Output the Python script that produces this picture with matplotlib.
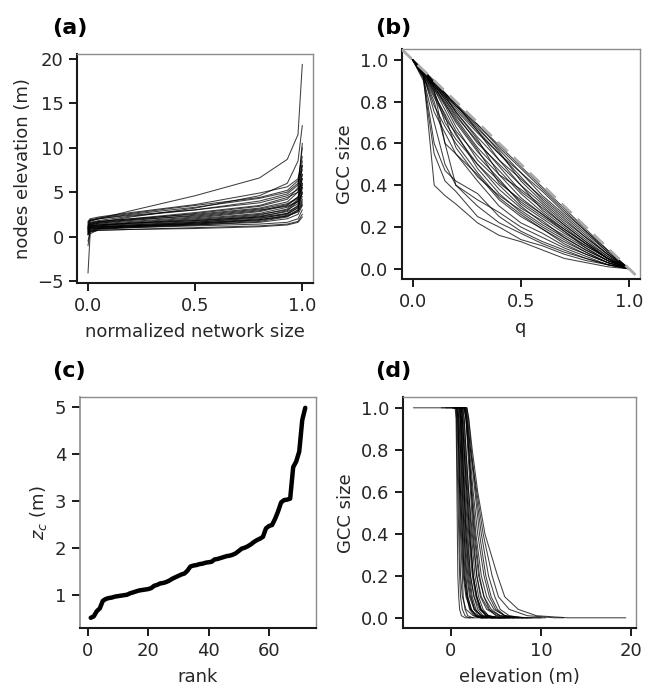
import matplotlib
matplotlib.use("Agg")
import matplotlib.pyplot as plt
import numpy as np

# ---------------- data ----------------
# (a) node elevation at given normalized network size levels, one row per network
size_levels = [0, 0.01, 0.05, 0.2, 0.5, 0.8, 0.93, 0.98, 1.0]
elev_curves = [
    [-4.1, 0.3, 0.8, 1.0, 1.3, 1.7, 2.2, 3.0, 5.5],
    [-1.0, 0.5, 0.9, 1.1, 1.5, 2.0, 2.6, 3.5, 6.0],
    [0.2, 0.6, 0.7, 0.8, 0.9, 1.1, 1.3, 1.6, 2.2],
    [0.5, 0.9, 1.0, 1.2, 1.6, 2.2, 2.9, 4.0, 8.0],
    [1.0, 1.4, 1.6, 2.2, 3.2, 4.6, 6.0, 8.5, 12.5],
    [1.3, 1.7, 2.0, 2.9, 4.6, 6.6, 8.7, 11.5, 19.4],
    [0.8, 1.2, 1.3, 1.6, 2.1, 2.8, 3.5, 4.5, 6.5],
    [0.3, 0.7, 0.9, 1.0, 1.2, 1.4, 1.6, 2.0, 3.0],
    [0.9, 1.3, 1.5, 1.9, 2.6, 3.4, 4.2, 5.5, 10.5],
    [1.5, 1.8, 2.0, 2.5, 3.3, 4.3, 5.0, 6.0, 7.5],
    [0.6, 1.0, 1.1, 1.3, 1.7, 2.3, 2.8, 3.4, 4.5],
    [0.4, 0.8, 1.0, 1.2, 1.4, 1.8, 2.3, 2.8, 3.8],
    [1.1, 1.5, 1.7, 2.0, 2.5, 3.2, 3.9, 5.0, 8.5],
    [0.7, 1.1, 1.2, 1.5, 1.9, 2.5, 3.0, 3.7, 5.0],
    [1.7, 2.0, 2.2, 2.7, 3.6, 4.9, 5.6, 6.5, 9.0],
    [0.2, 0.5, 0.7, 0.8, 1.0, 1.2, 1.4, 1.7, 2.5],
    [0.9, 1.2, 1.4, 1.7, 2.2, 2.9, 3.6, 4.3, 6.0],
    [0.6, 1.0, 1.2, 1.4, 1.8, 2.4, 3.1, 4.2, 7.0],
    [1.2, 1.6, 1.8, 2.3, 3.0, 4.0, 4.8, 5.8, 10.0],
    [-0.5, 0.6, 0.9, 1.1, 1.4, 1.9, 2.4, 3.0, 4.0],
    [1.0, 1.3, 1.5, 1.8, 2.4, 3.1, 3.7, 4.4, 5.5],
    [0.8, 1.1, 1.3, 1.5, 1.8, 2.2, 2.6, 3.2, 4.2],
    [1.4, 1.8, 2.1, 2.6, 3.5, 4.4, 5.2, 6.3, 8.0],
    [0.5, 0.8, 0.9, 1.1, 1.3, 1.6, 2.0, 2.5, 3.5],
    [1.2, 1.5, 1.7, 2.0, 2.7, 3.5, 4.4, 5.0, 6.5],
    [0.3, 0.9, 1.1, 1.3, 1.6, 2.1, 2.5, 3.3, 5.0],
    [1.6, 1.9, 2.0, 2.4, 3.0, 3.8, 4.6, 5.3, 7.0],
    [0.9, 1.2, 1.3, 1.5, 2.0, 2.6, 3.3, 3.9, 4.8],
    [0.7, 1.0, 1.1, 1.2, 1.5, 1.9, 2.3, 2.8, 3.6],
    [1.1, 1.4, 1.6, 1.9, 2.3, 3.0, 3.4, 4.0, 5.8],
]

# (b) GCC size at given removed fractions q
q_levels = [0, 0.05, 0.1, 0.15, 0.2, 0.3, 0.4, 0.5, 0.6, 0.7, 0.8, 0.9, 1.0]
gcc_q_curves = [
    [1.0, 0.93, 0.40, 0.35, 0.31, 0.22, 0.16, 0.13, 0.09, 0.05, 0.03, 0.01, 0.0],
    [1.0, 0.90, 0.55, 0.42, 0.37, 0.25, 0.20, 0.14, 0.11, 0.07, 0.04, 0.02, 0.0],
    [1.0, 0.94, 0.85, 0.60, 0.40, 0.30, 0.22, 0.17, 0.12, 0.08, 0.05, 0.02, 0.0],
    [1.0, 0.95, 0.89, 0.84, 0.79, 0.69, 0.59, 0.49, 0.39, 0.29, 0.19, 0.09, 0.0],
    [1.0, 0.94, 0.88, 0.82, 0.76, 0.65, 0.55, 0.44, 0.33, 0.24, 0.15, 0.07, 0.0],
    [1.0, 0.94, 0.87, 0.80, 0.72, 0.58, 0.47, 0.36, 0.27, 0.19, 0.12, 0.05, 0.0],
    [1.0, 0.93, 0.85, 0.70, 0.62, 0.50, 0.40, 0.30, 0.22, 0.16, 0.10, 0.04, 0.0],
    [1.0, 0.92, 0.80, 0.60, 0.55, 0.45, 0.33, 0.25, 0.19, 0.12, 0.07, 0.03, 0.0],
    [1.0, 0.94, 0.88, 0.83, 0.75, 0.62, 0.45, 0.38, 0.30, 0.21, 0.13, 0.06, 0.0],
    [1.0, 0.95, 0.89, 0.83, 0.78, 0.67, 0.57, 0.46, 0.35, 0.26, 0.17, 0.08, 0.0],
    [1.0, 0.91, 0.70, 0.50, 0.40, 0.33, 0.27, 0.20, 0.15, 0.10, 0.06, 0.02, 0.0],
    [1.0, 0.94, 0.86, 0.78, 0.68, 0.52, 0.42, 0.32, 0.25, 0.18, 0.11, 0.05, 0.0],
    [1.0, 0.95, 0.88, 0.81, 0.74, 0.60, 0.50, 0.40, 0.31, 0.22, 0.14, 0.06, 0.0],
    [1.0, 0.93, 0.75, 0.65, 0.55, 0.42, 0.30, 0.22, 0.17, 0.11, 0.07, 0.03, 0.0],
    [1.0, 0.94, 0.89, 0.84, 0.78, 0.68, 0.56, 0.42, 0.32, 0.23, 0.15, 0.07, 0.0],
    [1.0, 0.95, 0.90, 0.84, 0.79, 0.66, 0.52, 0.40, 0.28, 0.20, 0.12, 0.05, 0.0],
    [1.0, 0.92, 0.82, 0.72, 0.65, 0.48, 0.36, 0.27, 0.20, 0.14, 0.08, 0.03, 0.0],
    [1.0, 0.94, 0.87, 0.79, 0.70, 0.56, 0.45, 0.34, 0.26, 0.18, 0.10, 0.04, 0.0],
    [1.0, 0.95, 0.89, 0.83, 0.77, 0.66, 0.55, 0.46, 0.37, 0.27, 0.18, 0.08, 0.0],
    [1.0, 0.93, 0.84, 0.73, 0.58, 0.44, 0.35, 0.28, 0.21, 0.15, 0.09, 0.04, 0.0],
    [1.0, 0.94, 0.88, 0.81, 0.73, 0.61, 0.49, 0.37, 0.29, 0.21, 0.13, 0.05, 0.0],
    [1.0, 0.92, 0.60, 0.47, 0.42, 0.36, 0.25, 0.18, 0.13, 0.09, 0.05, 0.02, 0.0],
    [1.0, 0.95, 0.89, 0.84, 0.78, 0.69, 0.58, 0.48, 0.38, 0.28, 0.18, 0.09, 0.0],
    [1.0, 0.94, 0.86, 0.76, 0.66, 0.54, 0.43, 0.31, 0.24, 0.17, 0.11, 0.05, 0.0],
    [1.0, 0.93, 0.83, 0.74, 0.64, 0.50, 0.38, 0.29, 0.23, 0.15, 0.09, 0.04, 0.0],
    [1.0, 0.95, 0.88, 0.82, 0.75, 0.63, 0.52, 0.43, 0.34, 0.25, 0.16, 0.07, 0.0],
    [1.0, 0.94, 0.87, 0.79, 0.71, 0.57, 0.41, 0.33, 0.26, 0.19, 0.12, 0.05, 0.0],
    [1.0, 0.92, 0.78, 0.68, 0.60, 0.46, 0.34, 0.26, 0.19, 0.13, 0.08, 0.03, 0.0],
]

# (c) critical elevation z_c, sorted by rank
zc_values = [
    0.52, 0.55, 0.66, 0.72, 0.88, 0.92, 0.94, 0.95, 0.97, 0.98,
    0.99, 1.00, 1.01, 1.04, 1.06, 1.08, 1.10, 1.11, 1.12, 1.13,
    1.15, 1.20, 1.22, 1.25, 1.26, 1.28, 1.31, 1.35, 1.38, 1.41,
    1.44, 1.46, 1.52, 1.61, 1.63, 1.64, 1.66, 1.67, 1.69, 1.70,
    1.71, 1.76, 1.77, 1.79, 1.81, 1.83, 1.84, 1.86, 1.89, 1.94,
    1.99, 2.01, 2.04, 2.08, 2.13, 2.17, 2.20, 2.24, 2.42, 2.47,
    2.49, 2.62, 2.78, 2.97, 3.02, 3.03, 3.05, 3.72, 3.84, 4.05,
    4.72, 4.98,
]
rank = list(range(1, len(zc_values) + 1))

# (d) GCC size vs flooding elevation: elevation where GCC reaches each level
gcc_levels = [1.0, 0.95, 0.8, 0.6, 0.4, 0.2, 0.1, 0.04, 0.01, 0.0]
drop_elev_curves = [
    [0.6, 0.7, 0.8, 0.9, 1.0, 1.1, 1.3, 1.7, 2.5, 3.5],
    [0.7, 0.8, 0.9, 1.0, 1.2, 1.4, 1.7, 2.2, 3.0, 4.5],
    [0.5, 0.6, 0.65, 0.7, 0.75, 0.8, 0.9, 1.0, 1.2, 1.6],
    [0.9, 1.0, 1.1, 1.3, 1.5, 1.8, 2.1, 2.6, 3.5, 5.5],
    [1.6, 1.8, 2.2, 2.9, 3.6, 4.6, 5.3, 6.5, 8.5, 11.5],
    [1.8, 2.0, 2.4, 3.0, 3.8, 5.2, 6.0, 7.5, 9.5, 13.0],
    [1.2, 1.3, 1.5, 1.8, 2.1, 2.5, 2.9, 3.4, 4.2, 5.5],
    [0.7, 0.8, 0.9, 1.0, 1.1, 1.3, 1.4, 1.6, 1.9, 2.5],
    [1.3, 1.5, 1.7, 2.0, 2.4, 2.9, 3.4, 4.2, 5.5, 8.0],
    [1.7, 1.9, 2.2, 2.7, 3.2, 3.9, 4.5, 5.2, 6.0, 7.0],
    [1.0, 1.1, 1.3, 1.5, 1.7, 2.1, 2.4, 2.8, 3.3, 4.0],
    [0.8, 0.9, 1.1, 1.2, 1.4, 1.6, 1.9, 2.3, 2.8, 3.4],
    [1.5, 1.7, 1.9, 2.2, 2.5, 2.9, 3.3, 4.0, 5.2, 7.0],
    [1.1, 1.2, 1.4, 1.6, 1.9, 2.2, 2.6, 3.0, 3.6, 4.5],
    [1.8, 2.0, 2.3, 2.8, 3.4, 4.2, 4.9, 5.5, 6.5, 8.0],
    [0.6, 0.65, 0.7, 0.8, 0.9, 1.0, 1.1, 1.3, 1.6, 2.0],
    [1.2, 1.3, 1.5, 1.8, 2.1, 2.5, 2.9, 3.4, 4.0, 5.2],
    [1.0, 1.1, 1.3, 1.5, 1.8, 2.2, 2.6, 3.2, 4.0, 6.0],
    [1.5, 1.7, 2.0, 2.4, 2.8, 3.4, 4.0, 4.8, 6.0, 8.5],
    [0.7, 0.8, 0.9, 1.1, 1.3, 1.5, 1.8, 2.2, 2.8, 3.5],
    [1.4, 1.5, 1.7, 2.0, 2.3, 2.7, 3.1, 3.6, 4.2, 5.0],
    [1.1, 1.2, 1.3, 1.5, 1.7, 2.0, 2.3, 2.6, 3.1, 3.8],
    [1.6, 1.8, 2.1, 2.5, 3.0, 3.7, 4.3, 5.0, 6.0, 7.5],
    [0.8, 0.9, 1.0, 1.1, 1.3, 1.5, 1.8, 2.1, 2.6, 3.1],
    [1.5, 1.7, 2.0, 2.3, 2.7, 3.2, 3.7, 4.3, 5.0, 6.0],
    [1.0, 1.1, 1.2, 1.4, 1.6, 1.9, 2.2, 2.7, 3.4, 4.5],
    [1.7, 1.8, 2.0, 2.3, 2.6, 3.1, 3.7, 4.5, 5.5, 6.5],
    [1.2, 1.3, 1.5, 1.7, 2.0, 2.4, 2.8, 3.3, 3.9, 4.5],
    [1.0, 1.1, 1.2, 1.3, 1.5, 1.7, 1.9, 2.3, 2.8, 3.3],
    [1.3, 1.4, 1.6, 1.9, 2.2, 2.5, 2.9, 3.3, 4.0, 5.2],
]

# ---------------- style ----------------
plt.rcParams['font.family'] = ['DejaVu Sans']
TXT = '#262626'
FS = 13
W, H = 646, 689
fig = plt.figure(figsize=(W / 100, H / 100), dpi=100)


def make_ax(left, right, top, bottom, gray_left=False):
    ax = fig.add_axes([left / W, 1 - bottom / H, (right - left) / W, (bottom - top) / H])
    for s in ('top', 'right'):
        ax.spines[s].set_color('#8c8c8c')
        ax.spines[s].set_linewidth(1.0)
    for s in ('left', 'bottom'):
        ax.spines[s].set_color('#1a1a1a')
        ax.spines[s].set_linewidth(1.5)
    if gray_left:
        ax.spines['left'].set_color('#8c8c8c')
        ax.spines['left'].set_linewidth(1.2)
    ax.tick_params(axis='both', length=5.8, width=1.4, color='#1a1a1a',
                   labelsize=FS, labelcolor=TXT, pad=4, direction='out')
    return ax


LW = 0.75
ALPHA = 0.75

# (a)
axa = make_ax(77.3, 313, 54, 283.3)
for c in elev_curves:
    axa.plot(size_levels, c, color='black', lw=LW, alpha=ALPHA)
axa.set_xticks([0, 0.5, 1.0])
axa.set_yticks([-5, 0, 5, 10, 15, 20])
axa.set_xlabel('normalized network size', fontsize=FS, color=TXT, labelpad=6)
axa.set_ylabel('nodes elevation (m)', fontsize=FS, color=TXT, labelpad=4)

# (b)
axb = make_ax(401.7, 640, 49.3, 279.3)
for c in gcc_q_curves:
    axb.plot(q_levels, c, color='black', lw=LW, alpha=ALPHA)
axb.set_xlim(-0.05, 1.05)
axb.set_ylim(-0.05, 1.05)
axb.plot([-0.05, 1.05], [1.05, -0.05], color='#aaaaaa', lw=2, ls=(0, (5, 3)), zorder=5)
axb.set_xticks([0, 0.5, 1.0])
axb.set_yticks([0, 0.2, 0.4, 0.6, 0.8, 1.0])
axb.set_xlabel('q', fontsize=FS, color=TXT, labelpad=6)
axb.set_ylabel('GCC size', fontsize=FS, color=TXT, labelpad=4)

# (c)
axc = make_ax(80, 316, 397.3, 628.3, gray_left=True)
axc.plot(rank, zc_values, color='black', lw=3.2, solid_capstyle='round')
axc.set_xticks([0, 20, 40, 60])
axc.set_yticks([1, 2, 3, 4, 5])
axc.set_xlabel('rank', fontsize=FS, color=TXT, labelpad=6)
axc.set_ylabel('$z_c$ (m)', fontsize=FS, color=TXT, labelpad=4)

# (d)
axd = make_ax(403, 636.3, 397.3, 628.3)
for a, d in zip(elev_curves, drop_elev_curves):
    xs = [a[0]] + d + [a[-1]]
    ys = [gcc_levels[0]] + gcc_levels + [gcc_levels[-1]]
    axd.plot(xs, ys, color='black', lw=LW, alpha=ALPHA)
axd.set_xticks([0, 10, 20])
axd.set_yticks([0, 0.2, 0.4, 0.6, 0.8, 1.0])
axd.set_xlabel('elevation (m)', fontsize=FS, color=TXT, labelpad=6)
axd.set_ylabel('GCC size', fontsize=FS, color=TXT, labelpad=4)

# panel labels
for x, y, t in [(52, 28, '(a)'), (375, 28, '(b)'), (52, 371, '(c)'), (375, 371, '(d)')]:
    fig.text(x / W, 1 - y / H, t, fontsize=16, fontweight='bold', va='center', ha='left', color='black')

fig.savefig('out.png', dpi=100)
